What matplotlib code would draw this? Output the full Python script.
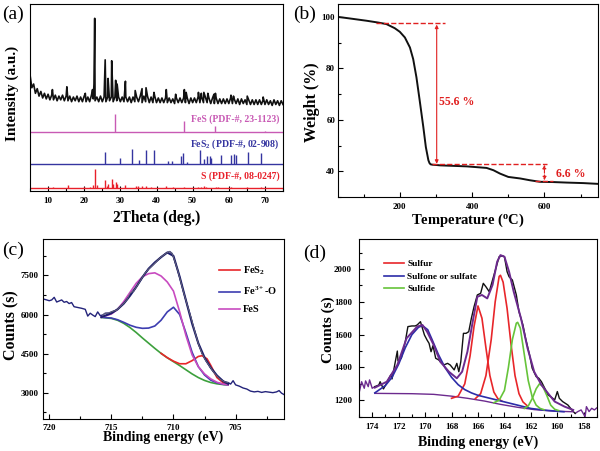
import numpy as np
import matplotlib.pyplot as plt
from matplotlib.ticker import MultipleLocator

plt.rcParams['font.family'] = ['Liberation Serif', 'DejaVu Serif']
plt.rcParams['font.weight'] = 'bold'
plt.rcParams['axes.labelweight'] = 'bold'
plt.rcParams['mathtext.fontset'] = 'custom'
plt.rcParams['mathtext.rm'] = 'Liberation Serif:bold'
plt.rcParams['mathtext.it'] = 'Liberation Serif:italic:bold'
plt.rcParams['mathtext.bf'] = 'Liberation Serif:bold'
plt.rcParams['axes.linewidth'] = 0.8

# ------------------------------------------------------
# (a) XRD data
xrd_noise = [62, 55, 57, 52, 54.5, 50.5, 53, 49.5, 52, 49,
             51.5, 48.5, 51, 48.5, 51, 48, 50.5, 48.5, 51, 48,
             50.5, 48, 50.5, 47.5, 50, 48, 50.5, 47.5, 50, 47.5,
             50.5, 47.5, 50, 47.5, 51, 49, 48, 50, 47.5, 50.5,
             47.5, 50, 47.5, 50, 48, 50, 47.5, 50, 48, 50,
             47.5, 50, 47.5, 50, 47.5, 50, 47, 50, 47.5, 50,
             47.5, 50.5, 47, 50.5, 47.5, 50.5, 47, 50, 47, 50.5,
             47, 49.5, 47, 49.5, 47, 49.5, 47, 49.5, 47, 49,
             46.5, 49.5, 47, 49.5, 47, 49.5, 47, 49.5, 46.5, 49.5,
             47, 49.5, 47, 50, 47, 50, 47, 50, 47, 49.5,
             46.5, 49.5, 46.5, 49.5, 46.5, 49, 46.5, 49, 46.5, 49,
             46.5, 49.5, 46.5, 49, 46.5, 49, 46, 49, 46.5, 48.5,
             46, 48.5, 46, 48.5, 46, 48.5, 46, 48.5, 46, 48.5,
             46, 48.5, 46, 48, 45.5, 48.5, 46, 48, 45.5, 48,
             46]
xrd_noise_x = np.arange(5, 75.01, 0.5)
xrd_peak_pos = [11.2, 15.2, 20.3, 22.3, 22.7, 22.9, 25.8, 26.6, 27.6, 28.7, 29.1,
                31.4, 34.1, 36.0, 37.1, 39.3, 42.7, 45.3, 47.7, 48.2, 51.6, 52.4,
                53.1, 54.2, 55.9, 56.3, 60.6, 61.3, 65.1, 69.5]
xrd_peak_top = [54, 55.5, 52, 54, 57, 92.3, 70, 60, 69.5, 59, 57,
                58.5, 53.5, 54.5, 55, 52.5, 54, 51.5, 54, 52.5, 52.5, 52,
                52.5, 52, 51.5, 52, 51, 50.5, 50.5, 50]

fes_base = 31.0
fes_pos = [28.4, 33.0, 47.6, 56.3, 70.0]
fes_h = [9.9, 0.4, 5.9, 3.2, 0.5]

fes2_base = 14.0
fes2_pos = [25.8, 30.0, 33.1, 35.1, 37.2, 39.2, 43.2, 44.2, 46.8, 47.4, 48.3,
            52.1, 53.2, 54.1, 54.8, 55.1, 57.9, 60.7, 61.4, 62.0, 65.4, 68.8]
fes2_h = [6.3, 3.5, 8.0, 2.2, 7.3, 7.3, 1.8, 1.8, 4.5, 5.8, 1.2,
          7.6, 2.6, 4.2, 4.2, 3.5, 4.6, 5.0, 5.2, 4.8, 6.5, 5.9]

s_base = 1.0
s_pos = [11.3, 15.4, 19.9, 21.6, 22.3, 23.0, 23.4, 25.8, 26.2, 26.7, 27.7, 28.0,
         28.7, 29.0, 31.4, 34.2, 34.8, 36.0, 37.1, 38.6, 42.7, 44.6, 47.7, 51.6,
         52.3, 53.1, 53.8, 56.4, 57.0, 60.5, 65.0, 69.0]
s_h = [0.8, 1.5, 0.6, 0.9, 1.8, 10.2, 1.5, 4.6, 1.2, 2.5, 5.0, 2.0,
       3.2, 2.0, 1.5, 1.2, 1.0, 1.0, 1.3, 0.7, 1.0, 0.6, 0.8, 0.8,
       0.8, 1.0, 0.7, 0.7, 0.6, 0.6, 0.6, 0.5]

# (b) TGA data
tga_T = [29, 61, 108, 140, 163, 186, 200, 214, 228, 237, 246, 255, 265, 272,
         279, 282, 285, 290, 300, 311, 385, 440, 459, 477, 500, 533, 560, 588,
         625, 662, 708, 748]
tga_W = [100.0, 99.4, 98.5, 97.8, 97.2, 95.6, 94.2, 92.0, 88.1, 83.6, 76.5,
         67.5, 57.2, 49.4, 44.3, 43.2, 42.7, 42.55, 42.45, 42.3, 41.9, 41.3,
         40.4, 39.1, 37.8, 37.2, 36.5, 35.9, 35.8, 35.6, 35.4, 35.1]

# (c) Fe 2p XPS
fe_raw_x = [720.5, 720.2, 720.0, 719.8, 719.6, 719.4, 719.2, 719.0, 718.8, 718.6,
            718.4, 718.2, 718.0, 717.7, 717.4, 717.1, 716.9, 716.7, 716.5, 716.3,
            716.1, 715.9, 715.7, 715.5, 715.2, 714.9, 714.6, 714.3, 714.0, 713.7,
            713.5, 713.2, 712.9, 712.6, 712.3, 712.0, 711.7, 711.4, 711.1, 710.8,
            710.5, 710.3, 710.1, 709.9, 709.7, 709.5, 709.2, 708.9, 708.6, 708.3,
            708.0, 707.7, 707.4, 707.1, 706.8, 706.5, 706.2, 705.9, 705.6, 705.4,
            705.2, 705.0, 704.7, 704.4, 704.1, 703.8, 703.5, 703.2, 702.9, 702.6,
            702.3, 702.0, 701.7, 701.5, 701.3, 701.0]
fe_raw_y = [6600, 6560, 6530, 6560, 6660, 6480, 6520, 6560, 6470, 6500,
            6420, 6460, 6300, 6270, 6240, 6200, 5940, 6050, 5980, 5920,
            6100, 5960, 5980, 6050, 6060, 6120, 6160, 6300, 6430, 6600,
            6820, 6900, 7120, 7350, 7580, 7750, 7880, 8020, 8170, 8280,
            8380, 8420, 8340, 8060, 7760, 7420, 6880, 6380, 5900, 5380,
            4880, 4500, 4230, 4020, 3810, 3640, 3500, 3420, 3390, 3330,
            3460, 3300, 3250, 3180, 3140, 3060, 3030, 3050, 3010, 3040,
            3020, 3000, 3030, 3080, 2980, 2900]
fe_fit_x = [715.8, 715.0, 714.5, 714.0, 713.5, 713.0, 712.5, 712.0, 711.5, 711.0,
            710.5, 710.0, 709.5, 709.0, 708.5, 708.0, 707.5, 707.0, 706.5, 706.0,
            705.6]
fe_envelope = [5900, 6050, 6200, 6420, 6720, 7060, 7430, 7760, 8000, 8200,
               8380, 8250, 7450, 6550, 5650, 4900, 4350, 3960, 3660, 3440, 3340]
fe_bg = [5890, 5850, 5780, 5660, 5500, 5310, 5100, 4900, 4700, 4510,
         4340, 4190, 4040, 3880, 3720, 3580, 3470, 3390, 3340, 3310, 3300]
fe_fes = [5900, 6020, 6200, 6500, 6850, 7200, 7450, 7570, 7600, 7480,
          7250, 6900, 6100, 5200, 4450, 4000, 3720, 3530, 3400, 3330, 3300]
fe_fe3 = [5895, 5865, 5800, 5700, 5590, 5510, 5470, 5480, 5560, 5780,
          6100, 6280, 6000, 5300, 4550, 4000, 3680, 3480, 3380, 3320, 3300]
fe_fes2_x = [711.0, 710.5, 710.0, 709.5, 709.0, 708.5, 708.0, 707.7, 707.3,
             707.0, 706.5, 706.0, 705.6]
fe_fes2 = [4510, 4345, 4210, 4110, 4110, 4230, 4390, 4420, 4300,
           4050, 3580, 3380, 3310]

# (d) S 2p XPS
s_raw_x = [175.0, 174.8, 174.6, 174.5, 174.3, 174.2, 174.0, 173.8, 173.5, 173.4,
           173.15, 172.85, 172.6, 172.5, 172.1, 172.05, 171.8, 171.5, 171.3, 171.0,
           170.75, 170.6, 170.35, 170.2, 170.05, 169.85, 169.7, 169.55, 169.4, 169.2,
           168.97, 168.85, 168.6, 168.3, 168.1, 167.8, 167.6, 167.45, 167.3, 167.1,
           166.9, 166.7, 166.5, 166.3, 166.05, 165.8, 165.6, 165.4, 165.15, 164.9,
           164.65, 164.4, 164.15, 164.0, 163.8, 163.65, 163.4, 163.1, 162.9, 162.6,
           162.4, 162.1, 161.9, 161.6, 161.4, 161.2, 160.95, 160.7, 160.5, 160.2,
           160.0, 159.85, 159.6, 159.2, 158.8, 158.65, 158.45, 158.2, 157.9, 157.8,
           157.6, 157.4, 157.2, 156.9]
s_raw_y = [1242, 1313, 1273, 1318, 1283, 1324, 1273, 1283, 1293, 1313,
           1269, 1313, 1354, 1330, 1500, 1440, 1456, 1557, 1649, 1653,
           1653, 1659, 1679, 1638, 1598, 1567, 1547, 1496, 1533, 1456,
           1446, 1435, 1415, 1425, 1415, 1385, 1425, 1374, 1435, 1608,
           1608, 1618, 1700, 1770, 1842, 1852, 1913, 1892, 1862, 1933,
           2004, 2075, 2081, 2075, 1984, 1953, 1933, 1842, 1740, 1659,
           1578, 1476, 1395, 1344, 1334, 1313, 1273, 1232, 1222, 1202,
           1253, 1212, 1192, 1171, 1131, 1120, 1131, 1141, 1100, 1161,
           1131, 1151, 1141, 1161]
s_fit_x = [173.8, 172.9, 172.1, 171.4, 170.6, 170.2, 169.85, 169.35, 168.85, 168.2,
           167.6, 167.2, 166.8, 166.4, 166.05, 165.7, 165.3, 164.9, 164.55, 164.3,
           164.0, 163.65, 163.3, 162.75, 162.25, 161.75, 161.2, 160.7, 160.2, 159.45,
           158.8]
s_envelope = [1277, 1313, 1415, 1578, 1649, 1659, 1618, 1537, 1435, 1374,
              1334, 1374, 1496, 1679, 1831, 1842, 1821, 1903, 2045, 2085,
              2075, 1984, 1862, 1700, 1517, 1374, 1293, 1242, 1192, 1161,
              1141]
s_bg_x = [173.8, 171.0, 169.35, 168.0, 166.8, 165.5, 164.3, 163.0, 161.75, 160.2, 158.8]
s_bg = [1242, 1240, 1236, 1225, 1212, 1195, 1175, 1157, 1143, 1133, 1130]
sulfate_x = [173.8, 173.0, 172.5, 172.0, 171.5, 171.0, 170.5, 170.2, 169.8, 169.5,
             169.0, 168.5, 168.0, 167.5, 167.0, 166.5, 166.0, 165.5, 165.0, 164.5,
             164.0, 163.0, 162.0, 161.0, 160.0, 159.5]
sulfate_y = [1245, 1290, 1340, 1420, 1520, 1600, 1645, 1655, 1630, 1575,
             1480, 1400, 1340, 1295, 1265, 1245, 1230, 1220, 1210, 1200,
             1190, 1170, 1150, 1140, 1133, 1130]
sulfur1_x = [168.0, 167.5, 167.0, 166.6, 166.3, 166.0, 165.7, 165.4, 165.1, 164.8, 164.5, 164.2]
sulfur1_y = [1212, 1225, 1300, 1470, 1650, 1775, 1700, 1520, 1350, 1250, 1210, 1195]
sulfur2_x = [166.2, 165.8, 165.4, 165.0, 164.7, 164.4, 164.3, 164.1, 163.8, 163.5,
             163.2, 162.9, 162.6, 162.3]
sulfur2_y = [1210, 1240, 1350, 1570, 1800, 1955, 1962, 1920, 1760, 1540,
             1350, 1240, 1190, 1168]
sulfide1_x = [164.8, 164.4, 164.0, 163.7, 163.4, 163.1, 163.0, 162.8, 162.5, 162.2,
              161.9, 161.6, 161.3, 161.0]
sulfide1_y = [1185, 1200, 1260, 1400, 1570, 1670, 1675, 1640, 1480, 1320,
              1220, 1170, 1150, 1142]
sulfide2_x = [162.5, 162.2, 161.9, 161.6, 161.35, 161.1, 160.8, 160.5, 160.2, 159.9]
sulfide2_y = [1150, 1165, 1210, 1270, 1300, 1285, 1230, 1170, 1145, 1137]
# ------------------------------------------------------


def style(ax, xmaj, xmin, ymaj=None, ymin=None, xpad=4, ypad=3):
    ax.tick_params(which='both', direction='in', top=False, right=False,
                   labelsize=6.5, width=0.8)
    ax.tick_params(which='major', length=3.5)
    ax.tick_params(which='minor', length=2)
    ax.tick_params(axis='x', pad=xpad)
    ax.tick_params(axis='y', pad=ypad)
    ax.xaxis.set_major_locator(MultipleLocator(xmaj))
    ax.xaxis.set_minor_locator(MultipleLocator(xmin))
    if ymaj is None:
        ax.set_yticks([])
    else:
        ax.yaxis.set_major_locator(MultipleLocator(ymaj))
        ax.yaxis.set_minor_locator(MultipleLocator(ymin))


fig = plt.figure(figsize=(6, 4.51), dpi=100)

# ------------------------------------------------------
# (a) XRD
ax = fig.add_axes([0.05, 0.5765, 0.4217, 0.4146])
xx = np.concatenate([xrd_noise_x, xrd_peak_pos])
yy = np.concatenate([xrd_noise, xrd_peak_top])
o = np.argsort(xx)
ax.plot(xx[o], yy[o], color='#111111', lw=1.2)
ax.axhline(fes_base, color='#c85ab4', lw=1.0)
ax.vlines(fes_pos, fes_base, fes_base + np.array(fes_h), color='#c85ab4', lw=1.0)
ax.axhline(fes2_base, color='#3535a0', lw=1.0)
ax.vlines(fes2_pos, fes2_base, fes2_base + np.array(fes2_h), color='#3535a0', lw=1.0)
ax.axhline(s_base, color='#e8202a', lw=1.0)
ax.vlines(s_pos, s_base, s_base + np.array(s_h), color='#e8202a', lw=1.0)
ax.text(74, 38.2, 'FeS (PDF-#, 23-1123)', color='#c85ab4', fontsize=7, ha='right', va='center')
ax.text(74, 24.6, 'FeS$_2$ (PDF-#, 02-908)', color='#3535a0', fontsize=7, ha='right', va='center')
ax.text(74, 7.7, 'S (PDF-#, 08-0247)', color='#e8202a', fontsize=7, ha='right', va='center')
ax.set_xlim(5, 75)
ax.set_ylim(-0.5, 100)
style(ax, 10, 5)
ax.set_xlabel('2Theta (deg.)', fontsize=11.2)
ax.set_ylabel('Intensity (a.u.)', fontsize=11)
ax.xaxis.set_label_coords(0.5, -0.1)
ax.yaxis.set_label_coords(-0.045, 0.52)

# ------------------------------------------------------
# (b) TGA
ax = fig.add_axes([0.5633, 0.5632, 0.4333, 0.4279])
ax.plot(tga_T, tga_W, color='#111111', lw=1.4)
red = '#e02020'
ax.plot([135, 325], [97.5, 97.5], color=red, ls='--', lw=1.0)
ax.annotate('', xy=(302, 97.0), xytext=(302, 42.9),
            arrowprops=dict(arrowstyle='<|-|>', color=red, lw=0.8,
                            mutation_scale=5, shrinkA=0, shrinkB=0))
ax.text(307, 66.8, '55.6 %', color=red, fontsize=8.5, va='center')
ax.plot([288, 606], [42.7, 42.7], color=red, ls='--', lw=1.0)
ax.plot([574, 625], [36.3, 36.3], color=red, ls='--', lw=1.0)
ax.annotate('', xy=(600, 42.5), xytext=(600, 36.5),
            arrowprops=dict(arrowstyle='<|-|>', color=red, lw=0.8, ls='--',
                            mutation_scale=5, shrinkA=0, shrinkB=0))
ax.text(632, 39.1, '6.6 %', color=red, fontsize=8.5, va='center')
ax.set_xlim(29, 748)
ax.set_ylim(30, 105)
style(ax, 200, 100, 20, 10, xpad=4, ypad=2)
ax.set_xlabel('Temperature ($^{\\rm o}$C)', fontsize=10.5)
ax.set_ylabel('Weight (%)', fontsize=11.5)
ax.xaxis.set_label_coords(0.5, -0.075)
ax.yaxis.set_label_coords(-0.07, 0.49)

# ------------------------------------------------------
# (c) Fe 2p
ax = fig.add_axes([0.0717, 0.0710, 0.4017, 0.3991])
fx = np.array(fe_raw_x)
fy = np.array(fe_raw_y)
ax.plot(fx, fy, color='#23237a', lw=1.0)
ax.plot(fe_fit_x, fe_bg, color='#3ca03c', lw=1.2)
ax.plot(fe_fes2_x, fe_fes2, color='#e8262a', lw=1.2, label='FeS$_2$')
ax.plot(fe_fit_x, fe_fe3, color='#3d3db0', lw=1.2, label='Fe$^{3+}$-O')
ax.plot(fe_fit_x, fe_fes, color='#c84bc0', lw=1.2, label='FeS')
ax.plot(fe_fit_x, fe_envelope, color='#1e1e6e', lw=1.5)
m = (fx <= 715.8) & (fx >= 705.6)
ax.plot(fx[m], fy[m], color='#777777', lw=0.5)
ax.legend(loc='upper left', bbox_to_anchor=(0.69, 0.91), frameon=False,
          fontsize=7.5, handlelength=2.0, handletextpad=0.3, labelspacing=0.75)
ax.set_xlim(720.5, 701.1)
ax.set_ylim(1990, 8900)
style(ax, 5, 2.5, 1500, 750, xpad=3.5, ypad=3)
ax.set_xlabel('Binding energy (eV)', fontsize=10)
ax.set_ylabel('Counts (s)', fontsize=11.5)
ax.xaxis.set_label_coords(0.5, -0.065)
ax.yaxis.set_label_coords(-0.10, 0.52)

# ------------------------------------------------------
# (d) S 2p
ax = fig.add_axes([0.5983, 0.0747, 0.3967, 0.3953])
sx = np.array(s_raw_x)
sy = np.array(s_raw_y)
purple = '#6c2a8e'
ax.plot(sx[sx >= 173.8], sy[sx >= 173.8], color=purple, lw=1.0)
ax.plot(sx[sx <= 158.65], sy[sx <= 158.65], color=purple, lw=1.0)
mid = (sx <= 173.8) & (sx >= 158.65)
ax.plot(sx[mid], sy[mid], color='#111111', lw=1.0)
ax.plot(s_bg_x, s_bg, color=purple, lw=1.0)
ax.plot(sulfur1_x, sulfur1_y, color='#e8262a', lw=1.2, label='Sulfur')
ax.plot(sulfur2_x, sulfur2_y, color='#e8262a', lw=1.2)
ax.plot(sulfate_x, sulfate_y, color='#2c2ca8', lw=1.2, label='Sulfone or sulfate')
ax.plot(sulfide1_x, sulfide1_y, color='#66c43a', lw=1.2, label='Sulfide')
ax.plot(sulfide2_x, sulfide2_y, color='#66c43a', lw=1.2)
ax.plot(s_fit_x, s_envelope, color=purple, lw=1.4)
ax.legend(loc='upper left', bbox_to_anchor=(0.07, 0.93), frameon=False,
          fontsize=6.7, handlelength=2.2, handletextpad=0.3, labelspacing=0.42)
ax.set_xlim(175, 157)
ax.set_ylim(1096, 2183)
style(ax, 2, 1, 200, 100, xpad=4, ypad=5)
ax.set_xlabel('Binding energy (eV)', fontsize=10)
ax.set_ylabel('Counts (s)', fontsize=11)
ax.xaxis.set_label_coords(0.5, -0.10)
ax.yaxis.set_label_coords(-0.10, 0.49)

# panel letters
for xp, yp, lab in [(0.021, 0.969, '(a)'), (0.507, 0.969, '(b)'),
                    (0.022, 0.446, '(c)'), (0.525, 0.439, '(d)')]:
    fig.text(xp, yp, lab, fontsize=14, fontweight='normal', ha='center', va='center')

fig.savefig('out.png', dpi=100)
